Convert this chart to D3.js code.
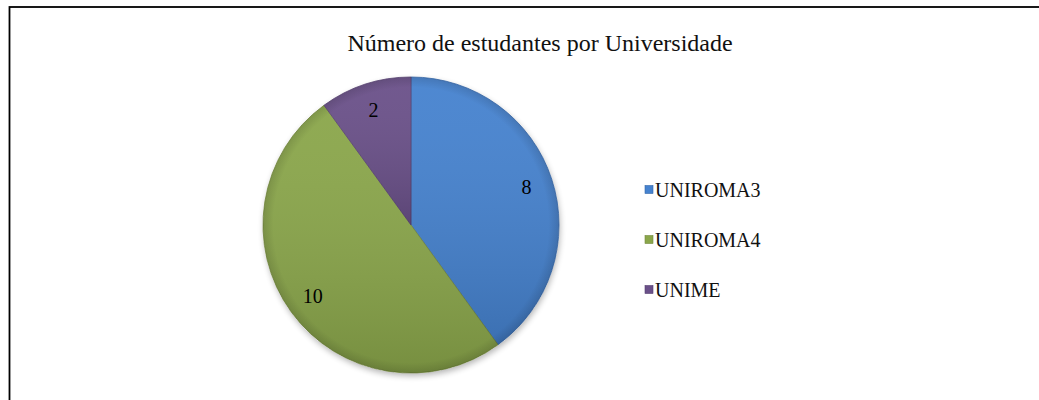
<!DOCTYPE html>
<html><head><meta charset="utf-8">
<script src="https://cdn.jsdelivr.net/npm/d3@7"></script>
<style>body{margin:0;background:#fff;}svg{display:block;} text{font-family:"Liberation Serif","Times New Roman","DejaVu Serif",serif;}</style>
</head><body>
<script>
const categories = ["UNIROMA3", "UNIROMA4", "UNIME"];
const values = [8, 10, 2];
const title = "Número de estudantes por Universidade";
const colors = ["#4582cf", "#8aa64a", "#6a5089"];
const darkColors = ["#3466a8", "#73893c", "#553f70"];

const W = 1039, H = 400;
const svg = d3.select("body").append("svg").attr("width", W).attr("height", H);
const defs = svg.append("defs");

// frame
svg.append("rect").attr("x", 9.5).attr("y", 7).attr("width", 1100).attr("height", 500)
  .attr("fill", "#fff").attr("stroke", "#000").attr("stroke-width", 1.8);
svg.append("text").attr("x", 55).attr("y", -6).attr("font-size", 18).text("ç");

svg.append("text").attr("x", 540).attr("y", 51).attr("text-anchor", "middle")
  .attr("font-size", 24).attr("fill", "#111").text(title);

const cx = 411, cy = 225, r = 148;
const pie = d3.pie().sort(null).value(d => d)(values);
const arc = d3.arc().innerRadius(0).outerRadius(r);
const labelArc = d3.arc().innerRadius(r * 0.82).outerRadius(r * 0.82);

colors.forEach((c, i) => {
  const lg = defs.append("linearGradient").attr("id", "lg" + i).attr("x1", 0).attr("y1", 0).attr("x2", 0).attr("y2", 1);
  lg.append("stop").attr("offset", "0%").attr("stop-color", "#fff").attr("stop-opacity", 0.05);
  lg.append("stop").attr("offset", "100%").attr("stop-color", "#000").attr("stop-opacity", 0.14);
});
const rg = defs.append("radialGradient").attr("id", "rim").attr("gradientUnits", "userSpaceOnUse")
  .attr("cx", 0).attr("cy", 0).attr("r", r);
rg.append("stop").attr("offset", "0%").attr("stop-color", "#000").attr("stop-opacity", 0);
rg.append("stop").attr("offset", "93%").attr("stop-color", "#000").attr("stop-opacity", 0);
rg.append("stop").attr("offset", "100%").attr("stop-color", "#000").attr("stop-opacity", 0.12);

// shadow
const f = defs.append("filter").attr("id", "sh").attr("x", "-20%").attr("y", "-20%").attr("width", "140%").attr("height", "140%");
f.append("feGaussianBlur").attr("in", "SourceAlpha").attr("stdDeviation", 3);
f.append("feOffset").attr("dx", 1).attr("dy", 3).attr("result", "b");
f.append("feComponentTransfer").append("feFuncA").attr("type", "linear").attr("slope", 0.3);
const m = f.append("feMerge"); m.append("feMergeNode"); m.append("feMergeNode").attr("in", "SourceGraphic");

const pg = svg.append("g").attr("transform", `translate(${cx},${cy})`);
pg.append("circle").attr("r", r).attr("fill", "#fff").attr("filter", "url(#sh)");
pg.selectAll("path.s").data(pie).enter().append("path").attr("class", "s")
  .attr("d", arc)
  .attr("fill", (d, i) => colors[i])
  .attr("stroke", (d, i) => darkColors[i]).attr("stroke-width", 0.8);
pg.selectAll("path.h").data(pie).enter().append("path").attr("class", "h")
  .attr("d", arc).attr("fill", (d, i) => `url(#lg${i})`).attr("stroke", "none");
pg.append("circle").attr("r", r).attr("fill", "url(#rim)");
pg.selectAll("text").data(pie).enter().append("text")
  .attr("transform", d => `translate(${labelArc.centroid(d)})`)
  .attr("text-anchor", "middle").attr("dy", "0.35em")
  .attr("font-size", 20).attr("fill", "#000")
  .text(d => d.data);

// legend
const lgY = d3.scalePoint().domain(categories).range([190, 290]);
categories.forEach((c, i) => {
  const y = lgY(c);
  svg.append("rect").attr("x", 645).attr("y", y - 4.5).attr("width", 8).attr("height", 8)
    .attr("fill", colors[i]).attr("stroke", darkColors[i]).attr("stroke-width", 0.6);
  svg.append("text").attr("x", 655).attr("y", y).attr("dy", "0.35em")
    .attr("font-size", 20).attr("fill", "#111").text(c);
});
</script>
</body></html>
